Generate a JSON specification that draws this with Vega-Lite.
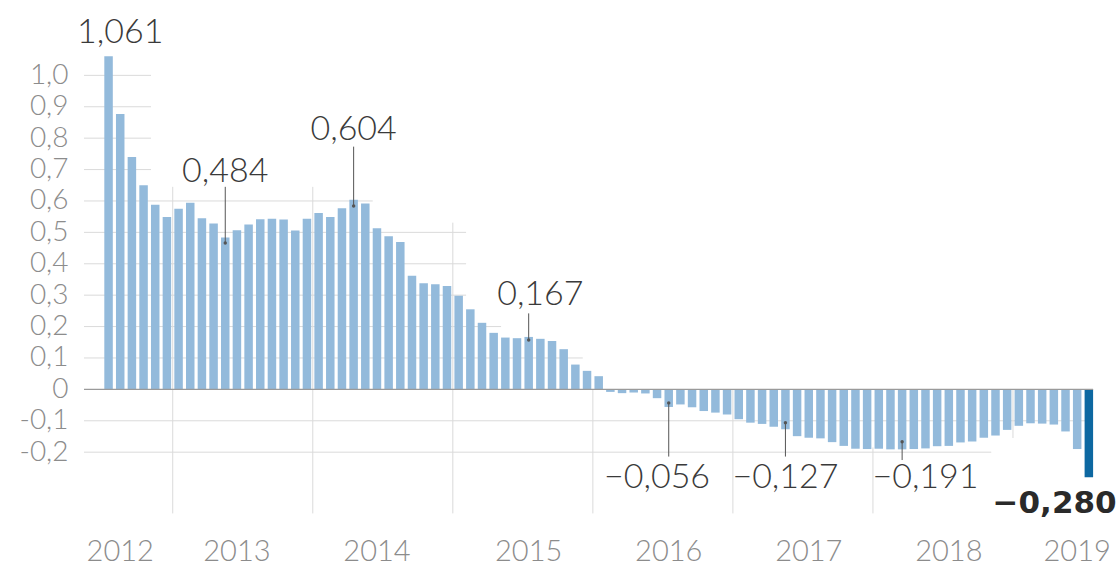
{
  "$schema": "https://vega.github.io/schema/vega-lite/v6.json",
  "width": 1009.1,
  "height": 524.4,
  "autosize": "none",
  "padding": {"left": 84, "top": 0, "right": 23.9, "bottom": 42.6},
  "background": "white",
  "config": {"view": {"stroke": null}, "font": "Lato"},
  "datasets": {
    "bars": [
      {"month": "2012-07", "v": 1.061}, {"month": "2012-08", "v": 0.877}, {"month": "2012-09", "v": 0.740},
      {"month": "2012-10", "v": 0.650}, {"month": "2012-11", "v": 0.588}, {"month": "2012-12", "v": 0.549},
      {"month": "2013-01", "v": 0.575}, {"month": "2013-02", "v": 0.594}, {"month": "2013-03", "v": 0.545},
      {"month": "2013-04", "v": 0.528}, {"month": "2013-05", "v": 0.484}, {"month": "2013-06", "v": 0.507},
      {"month": "2013-07", "v": 0.525}, {"month": "2013-08", "v": 0.542}, {"month": "2013-09", "v": 0.543},
      {"month": "2013-10", "v": 0.541}, {"month": "2013-11", "v": 0.506}, {"month": "2013-12", "v": 0.543},
      {"month": "2014-01", "v": 0.562}, {"month": "2014-02", "v": 0.549}, {"month": "2014-03", "v": 0.577},
      {"month": "2014-04", "v": 0.604}, {"month": "2014-05", "v": 0.592}, {"month": "2014-06", "v": 0.513},
      {"month": "2014-07", "v": 0.488}, {"month": "2014-08", "v": 0.469}, {"month": "2014-09", "v": 0.362},
      {"month": "2014-10", "v": 0.338}, {"month": "2014-11", "v": 0.335}, {"month": "2014-12", "v": 0.329},
      {"month": "2015-01", "v": 0.298}, {"month": "2015-02", "v": 0.255}, {"month": "2015-03", "v": 0.212},
      {"month": "2015-04", "v": 0.180}, {"month": "2015-05", "v": 0.165}, {"month": "2015-06", "v": 0.163},
      {"month": "2015-07", "v": 0.167}, {"month": "2015-08", "v": 0.161}, {"month": "2015-09", "v": 0.154},
      {"month": "2015-10", "v": 0.128}, {"month": "2015-11", "v": 0.079}, {"month": "2015-12", "v": 0.059},
      {"month": "2016-01", "v": 0.042}, {"month": "2016-02", "v": -0.008}, {"month": "2016-03", "v": -0.012},
      {"month": "2016-04", "v": -0.010}, {"month": "2016-05", "v": -0.013}, {"month": "2016-06", "v": -0.028},
      {"month": "2016-07", "v": -0.056}, {"month": "2016-08", "v": -0.048}, {"month": "2016-09", "v": -0.057},
      {"month": "2016-10", "v": -0.069}, {"month": "2016-11", "v": -0.074}, {"month": "2016-12", "v": -0.080},
      {"month": "2017-01", "v": -0.095}, {"month": "2017-02", "v": -0.106}, {"month": "2017-03", "v": -0.110},
      {"month": "2017-04", "v": -0.119}, {"month": "2017-05", "v": -0.127}, {"month": "2017-06", "v": -0.149},
      {"month": "2017-07", "v": -0.154}, {"month": "2017-08", "v": -0.156}, {"month": "2017-09", "v": -0.168},
      {"month": "2017-10", "v": -0.180}, {"month": "2017-11", "v": -0.189}, {"month": "2017-12", "v": -0.190},
      {"month": "2018-01", "v": -0.189}, {"month": "2018-02", "v": -0.191}, {"month": "2018-03", "v": -0.191},
      {"month": "2018-04", "v": -0.190}, {"month": "2018-05", "v": -0.188}, {"month": "2018-06", "v": -0.181},
      {"month": "2018-07", "v": -0.180}, {"month": "2018-08", "v": -0.169}, {"month": "2018-09", "v": -0.166},
      {"month": "2018-10", "v": -0.154}, {"month": "2018-11", "v": -0.147}, {"month": "2018-12", "v": -0.129},
      {"month": "2019-01", "v": -0.116}, {"month": "2019-02", "v": -0.108}, {"month": "2019-03", "v": -0.109},
      {"month": "2019-04", "v": -0.112}, {"month": "2019-05", "v": -0.134}, {"month": "2019-06", "v": -0.190},
      {"month": "2019-07", "v": -0.280}
    ],
    "hgrid": [
      {"v": 1.0, "start": "2012-07", "end": "2012-11"}, {"v": 0.9, "start": "2012-07", "end": "2012-11"},
      {"v": 0.8, "start": "2012-07", "end": "2012-11"}, {"v": 0.7, "start": "2012-07", "end": "2012-11"},
      {"v": 0.6, "start": "2012-07", "end": "2014-06"}, {"v": 0.5, "start": "2012-07", "end": "2015-02"},
      {"v": 0.4, "start": "2012-07", "end": "2015-02"}, {"v": 0.3, "start": "2012-07", "end": "2015-02"},
      {"v": 0.2, "start": "2012-07", "end": "2015-05"}, {"v": 0.1, "start": "2012-07", "end": "2015-12"},
      {"v": -0.2, "start": "2012-07", "end": "2018-11"}
    ],
    "vgrid": [
      {"month": "2013-01", "top": 0.645, "bot": -0.395},
      {"month": "2014-01", "top": 0.645, "bot": -0.395},
      {"month": "2015-01", "top": 0.531, "bot": -0.395},
      {"month": "2016-01", "top": 0, "bot": -0.395},
      {"month": "2017-01", "top": 0, "bot": -0.395},
      {"month": "2018-01", "top": -0.185, "bot": -0.395},
      {"month": "2019-01", "top": 0, "bot": -0.155}
    ],
    "leaders": [
      {"month": "2013-05", "l1": 0.645, "l2": 0.466},
      {"month": "2014-04", "l1": 0.773, "l2": 0.584},
      {"month": "2015-07", "l1": 0.242, "l2": 0.157},
      {"month": "2016-07", "l1": -0.214, "l2": -0.043},
      {"month": "2017-05", "l1": -0.214, "l2": -0.106},
      {"month": "2018-03", "l1": -0.225, "l2": -0.167}
    ],
    "labels": [
      {"label": "1,061", "tm": "2012-08", "ty": 1.102},
      {"label": "0,484", "tm": "2013-05", "ty": 0.661},
      {"label": "0,604", "tm": "2014-04", "ty": 0.794},
      {"label": "0,167", "tm": "2015-08", "ty": 0.269},
      {"label": "−0,056", "tm": "2016-06", "ty": -0.314},
      {"label": "−0,127", "tm": "2017-05", "ty": -0.314},
      {"label": "−0,191", "tm": "2018-05", "ty": -0.314}
    ],
    "last": [
      {"label": "−0,280", "tm": "2019-07", "ty": -0.395}
    ],
    "fullgrid": [{"v": -0.1}],
    "zero": [{"v": 0}]
  },
  "layer": [
    {
      "data": {"name": "vgrid"},
      "mark": {"type": "rule", "color": "#dadada", "strokeWidth": 1, "xOffset": -1.6},
      "encoding": {
        "x": {"field": "month", "type": "ordinal", "bandPosition": 0},
        "y": {"field": "top", "type": "quantitative"},
        "y2": {"field": "bot"}
      }
    },
    {
      "data": {"name": "hgrid"},
      "mark": {"type": "rule", "color": "#dadada", "strokeWidth": 1, "xOffset": -20.3},
      "encoding": {
        "x": {"field": "start", "type": "ordinal", "bandPosition": 0},
        "x2": {"field": "end", "bandPosition": 0},
        "y": {"field": "v", "type": "quantitative"}
      }
    },
    {
      "data": {"name": "fullgrid"},
      "mark": {"type": "rule", "color": "#dadada", "strokeWidth": 1},
      "encoding": {
        "y": {"field": "v", "type": "quantitative"}
      }
    },
    {
      "data": {"name": "bars"},
      "mark": {"type": "bar"},
      "encoding": {
        "x": {
          "field": "month",
          "type": "ordinal",
          "scale": {"type": "band", "paddingInner": 0.272, "paddingOuter": 0.87, "align": 1, "round": false},
          "axis": {
            "values": ["2012-08", "2013-06", "2014-06", "2015-07", "2016-07", "2017-07", "2018-07", "2019-06"],
            "labelExpr": "slice(datum.value, 0, 4)",
            "bandPosition": 0.5,
            "domain": false,
            "ticks": false,
            "grid": false,
            "title": null,
            "labelAngle": 0,
            "labelAlign": "center",
            "labelFont": "Lato",
            "labelFontWeight": 300,
            "labelFontSize": 29,
            "labelColor": "#8c8c8c",
            "labelBaseline": "alphabetic",
            "labelPadding": 36,
            "labelOverlap": false,
            "labelBound": false,
            "labelFlush": false
          }
        },
        "y": {
          "field": "v",
          "type": "quantitative",
          "scale": {"domain": [-0.43, 1.24], "nice": false, "zero": false},
          "axis": {
            "values": [-0.2, -0.1, 0, 0.1, 0.2, 0.3, 0.4, 0.5, 0.6, 0.7, 0.8, 0.9, 1.0],
            "labelExpr": "datum.value == 0 ? '0' : (datum.value < 0 ? '-' : '') + replace(format(abs(datum.value), '.1f'), '.', ',')",
            "domain": false,
            "ticks": false,
            "grid": false,
            "title": null,
            "labelFont": "Lato",
            "labelFontWeight": 300,
            "labelFontSize": 28,
            "labelColor": "#8c8c8c",
            "labelPadding": 16,
            "labelAlign": "right",
            "labelBaseline": "middle",
            "labelOverlap": false,
            "labelBound": false,
            "labelFlush": false
          }
        },
        "color": {
          "condition": {"test": "datum.month === '2019-07'", "value": "#0d68a1"},
          "value": "#93badb"
        }
      }
    },
    {
      "data": {"name": "zero"},
      "mark": {"type": "rule", "color": "#9a9a9a", "strokeWidth": 1.3},
      "encoding": {
        "y": {"field": "v", "type": "quantitative"}
      }
    },
    {
      "data": {"name": "leaders"},
      "mark": {"type": "rule", "color": "#555555", "strokeWidth": 1},
      "encoding": {
        "x": {"field": "month", "type": "ordinal"},
        "y": {"field": "l1", "type": "quantitative"},
        "y2": {"field": "l2"}
      }
    },
    {
      "data": {"name": "leaders"},
      "mark": {"type": "point", "filled": true, "size": 12, "color": "#555555", "opacity": 1},
      "encoding": {
        "x": {"field": "month", "type": "ordinal"},
        "y": {"field": "l2", "type": "quantitative"}
      }
    },
    {
      "data": {"name": "labels"},
      "mark": {"type": "text", "font": "Lato", "fontWeight": 300, "fontSize": 34, "color": "#3a3a3a", "baseline": "alphabetic", "align": "center"},
      "encoding": {
        "x": {"field": "tm", "type": "ordinal"},
        "y": {"field": "ty", "type": "quantitative"},
        "text": {"field": "label"}
      }
    },
    {
      "data": {"name": "last"},
      "mark": {"type": "text", "font": "DejaVu Sans", "fontWeight": "bold", "fontSize": 31, "color": "#2a2a2a", "baseline": "alphabetic", "align": "right", "dx": 23.5},
      "encoding": {
        "x": {"field": "tm", "type": "ordinal", "bandPosition": 1},
        "y": {"field": "ty", "type": "quantitative"},
        "text": {"field": "label"}
      }
    }
  ]
}
